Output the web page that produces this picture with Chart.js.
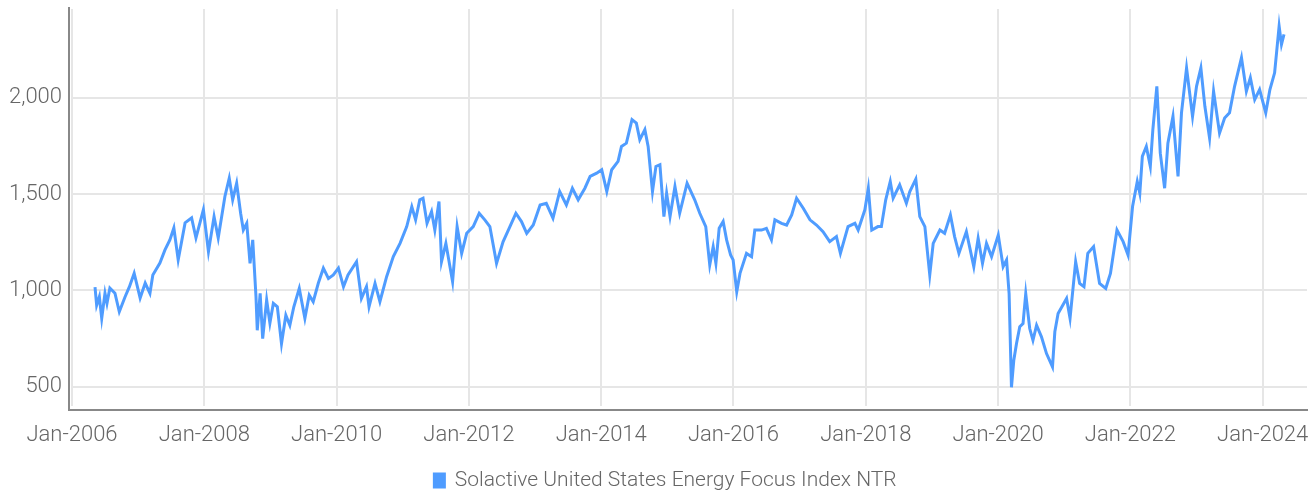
<!DOCTYPE html>
<html>
<head>
<meta charset="utf-8">
<title>Solactive United States Energy Focus Index NTR</title>
<script src="https://cdn.jsdelivr.net/npm/chart.js@4.4.1/dist/chart.umd.min.js"></script>
<style>
  html, body { margin: 0; padding: 0; background: #fff; }
  canvas { display: block; }
</style>
</head>
<body>
<canvas id="myChart" width="1316" height="493"></canvas>
<script>
var seriesName = "Solactive United States Energy Focus Index NTR";

// index level, roughly two readings a month
var dates = [
  "2006-05-08","2006-05-17","2006-06-01","2006-06-14","2006-07-02","2006-07-13","2006-07-29","2006-08-26","2006-09-19","2006-10-21","2006-11-14","2006-12-10",
  "2007-01-12","2007-02-09","2007-03-07","2007-03-23","2007-05-01","2007-05-29","2007-06-25","2007-07-17","2007-08-10","2007-09-17","2007-10-23","2007-11-16","2007-12-27",
  "2008-01-24","2008-02-24","2008-03-18","2008-04-24","2008-05-18","2008-06-06","2008-06-28","2008-07-20","2008-08-04","2008-08-23","2008-09-10","2008-09-25","2008-10-13","2008-10-20","2008-11-05","2008-11-19","2008-12-11","2008-12-29",
  "2009-01-17","2009-02-08","2009-03-03","2009-03-27","2009-04-18","2009-05-10","2009-06-09","2009-07-10","2009-08-03","2009-08-25","2009-09-22","2009-10-20","2009-11-17","2009-12-14",
  "2010-01-11","2010-02-08","2010-03-05","2010-04-21","2010-05-18","2010-06-15","2010-06-29","2010-08-01","2010-08-28","2010-10-04","2010-11-10","2010-12-17",
  "2011-01-23","2011-02-20","2011-03-13","2011-04-05","2011-04-23","2011-05-15","2011-06-09","2011-06-27","2011-07-20","2011-08-03","2011-08-27","2011-10-03","2011-10-28","2011-11-22","2011-12-20",
  "2012-01-25","2012-02-27","2012-03-29","2012-04-26","2012-06-02","2012-07-08","2012-08-15","2012-09-17","2012-10-18","2012-11-16","2012-12-22",
  "2013-01-29","2013-03-04","2013-04-10","2013-05-17","2013-06-23","2013-07-26","2013-08-27","2013-10-03","2013-11-01","2013-12-07",
  "2014-01-04","2014-02-01","2014-02-28","2014-04-04","2014-04-23","2014-05-20","2014-06-20","2014-07-14","2014-08-02","2014-08-30","2014-09-17","2014-10-11","2014-10-30","2014-11-21","2014-12-13","2014-12-28",
  "2015-01-16","2015-02-12","2015-03-10","2015-04-20","2015-06-01","2015-06-29","2015-08-01","2015-08-23","2015-09-11","2015-09-26","2015-10-14","2015-11-05","2015-11-24","2015-12-16","2015-12-30",
  "2016-01-19","2016-02-06","2016-03-13","2016-04-10","2016-04-28","2016-06-04","2016-07-01","2016-07-29","2016-08-17","2016-09-23","2016-10-21","2016-11-18","2016-12-15",
  "2017-01-21","2017-02-27","2017-04-04","2017-05-10","2017-06-16","2017-07-23","2017-08-14","2017-09-25","2017-11-02","2017-11-20","2017-12-27",
  "2018-01-15","2018-02-03","2018-03-09","2018-03-28","2018-04-21","2018-05-16","2018-06-01","2018-07-07","2018-08-13","2018-09-01","2018-10-04","2018-10-26","2018-11-23","2018-12-20",
  "2019-01-08","2019-02-14","2019-03-12","2019-04-13","2019-05-06","2019-05-30","2019-07-10","2019-08-20","2019-09-13","2019-10-07","2019-10-29","2019-11-26",
  "2020-01-02","2020-01-29","2020-02-17","2020-03-02","2020-03-15","2020-03-28","2020-04-12","2020-04-30","2020-05-18","2020-06-02","2020-06-24","2020-07-12","2020-08-01","2020-08-28","2020-09-25","2020-10-28","2020-11-10","2020-11-28",
  "2021-01-14","2021-02-02","2021-03-05","2021-03-27","2021-04-20","2021-05-11","2021-06-12","2021-07-15","2021-08-18","2021-09-13","2021-10-19","2021-11-22","2021-12-19",
  "2022-01-13","2022-02-08","2022-02-22","2022-03-08","2022-03-30","2022-04-21","2022-05-05","2022-05-27","2022-06-15","2022-07-09","2022-07-27","2022-08-24","2022-09-21","2022-10-10","2022-11-07","2022-12-10",
  "2023-01-01","2023-01-25","2023-02-16","2023-03-14","2023-04-05","2023-05-08","2023-06-05","2023-07-02","2023-07-30","2023-09-06","2023-10-03","2023-10-25","2023-11-18","2023-12-15",
  "2024-01-18","2024-02-10","2024-03-07","2024-04-01","2024-04-14","2024-04-28"
];

var values = [
  1017, 923, 967, 855, 985, 933, 1012, 985, 889, 967, 1019, 1089,
  960, 1038, 985, 1080, 1142, 1210, 1262, 1324, 1158, 1350, 1376, 1272, 1418,
  1201, 1383, 1272, 1487, 1582, 1470, 1556, 1400, 1313, 1348, 1140, 1262, 967, 793, 985, 750, 950, 830,
  933, 915, 724, 871, 819, 915, 1010, 855, 975, 941, 1037, 1115, 1062, 1080,
  1115, 1019, 1080, 1149, 958, 1019, 915, 1036, 941, 1071, 1175, 1244,
  1331, 1434, 1366, 1470, 1478, 1348, 1409, 1313, 1461, 1149, 1244, 1045, 1331, 1192, 1296,
  1331, 1400, 1366, 1331, 1140, 1252, 1331, 1400, 1357, 1296, 1339,
  1443, 1452, 1375, 1513, 1443, 1530, 1470, 1530, 1591, 1608,
  1626, 1513, 1626, 1669, 1747, 1764, 1886, 1868, 1782, 1834, 1747, 1513, 1643, 1652, 1383, 1504,
  1383, 1539, 1400, 1556, 1470, 1400, 1331, 1132, 1227, 1140, 1322, 1357, 1262, 1184, 1158,
  993, 1088, 1192, 1175, 1313, 1313, 1322, 1262, 1366, 1348, 1339, 1391, 1478,
  1426, 1366, 1339, 1305, 1253, 1279, 1192, 1331, 1348, 1313, 1418,
  1530, 1313, 1331, 1331, 1470, 1565, 1478, 1548, 1452, 1513, 1577, 1383, 1331, 1080,
  1244, 1313, 1296, 1391, 1279, 1192, 1305, 1123, 1270, 1140, 1244, 1175,
  1287, 1123, 1158, 983, 497, 638, 724, 811, 828, 983, 802, 741, 819, 759, 672, 603, 785, 880,
  958, 855, 1149, 1036, 1019, 1192, 1227, 1036, 1010, 1088, 1313, 1253, 1184,
  1435, 1565, 1504, 1695, 1747, 1643, 1834, 2059, 1712, 1530, 1764, 1903, 1591, 1921, 2154, 1903,
  2059, 2154, 1955, 1790, 2033, 1816, 1894, 1921, 2059, 2207, 2033, 2103, 1990, 2042,
  1921, 2042, 2129, 2371, 2276, 2328
];

var xTickYears = [2006, 2008, 2010, 2012, 2014, 2016, 2018, 2020, 2022, 2024];
var yTickValues = [500, 1000, 1500, 2000];

// date string -> fractional year so the x axis can stay linear
function toYear(s) {
  var p = s.split("-");
  var y = +p[0];
  var t = Date.UTC(y, +p[1] - 1, +p[2]);
  var a = Date.UTC(y, 0, 1), b = Date.UTC(y + 1, 0, 1);
  return y + (t - a) / (b - a);
}

var points = [];
for (var i = 0; i < dates.length; i++) {
  points.push({ x: toYear(dates[i]), y: values[i] });
}

var fontFamily = "'Roboto', sans-serif";
var textColor = "#666666";
var gridColor = "#e6e6e6";
var lineColor = "#4f9cff";

// axis lines sit a few pixels outside the plot area
var axisLines = {
  id: "axisLines",
  afterLayout: function(chart) {
    // legend is centred a little right of the canvas middle
    chart.legend.left += 12;
    chart.legend.right += 12;
  },
  afterDraw: function(chart) {
    var a = chart.chartArea, ctx = chart.ctx;
    ctx.save();
    ctx.strokeStyle = "#888888";
    ctx.lineWidth = 2;
    ctx.beginPath();
    ctx.moveTo(a.left - 3, a.top - 2);
    ctx.lineTo(a.left - 3, a.bottom + 5);
    ctx.moveTo(a.left - 2, a.bottom + 4);
    ctx.lineTo(a.right + 1, a.bottom + 4);
    ctx.stroke();
    ctx.restore();
  }
};

var ctx = document.getElementById("myChart").getContext("2d");
var myChart = new Chart(ctx, {
  type: "line",
  data: {
    datasets: [{
      label: seriesName,
      data: points,
      borderColor: lineColor,
      backgroundColor: lineColor,
      borderWidth: 3,
      pointRadius: 0,
      tension: 0,
      fill: false
    }]
  },
  options: {
    responsive: false,
    animation: false,
    layout: { padding: { left: 0, right: 9, top: 9, bottom: -8 } },
    scales: {
      x: {
        type: "linear",
        min: 2006,
        max: 2024.67,
        afterBuildTicks: function(axis) {
          axis.ticks = xTickYears.map(function(v) { return { value: v }; });
        },
        afterFit: function(axis) {
          axis.height = 54;
          axis.paddingLeft = 0;
          axis.paddingRight = 0;
        },
        grid: { color: gridColor, lineWidth: 2, drawTicks: false },
        border: { display: false },
        ticks: {
          autoSkip: false,
          maxRotation: 0,
          padding: 16,
          color: textColor,
          font: { family: fontFamily, size: 22, weight: 300 },
          callback: function(v) { return "Jan-" + v; }
        }
      },
      y: {
        min: 400,
        max: 2460,
        afterBuildTicks: function(axis) {
          axis.ticks = yTickValues.map(function(v) { return { value: v }; });
        },
        afterFit: function(axis) {
          axis.width = 72;
          axis.paddingTop = 0;
          axis.paddingBottom = 0;
        },
        grid: { color: gridColor, lineWidth: 2, drawTicks: false },
        border: { display: false },
        ticks: {
          padding: 10,
          color: textColor,
          font: { family: fontFamily, size: 22, weight: 300 },
          callback: function(v) { return v.toLocaleString("en-US"); }
        }
      }
    },
    plugins: {
      legend: {
        position: "bottom",
        labels: {
          boxWidth: 10,
          boxHeight: 13,
          padding: 10,
          color: textColor,
          font: { family: fontFamily, size: 21, weight: 300 }
        }
      },
      tooltip: { enabled: false }
    }
  },
  plugins: [axisLines]
});
</script>
</body>
</html>
